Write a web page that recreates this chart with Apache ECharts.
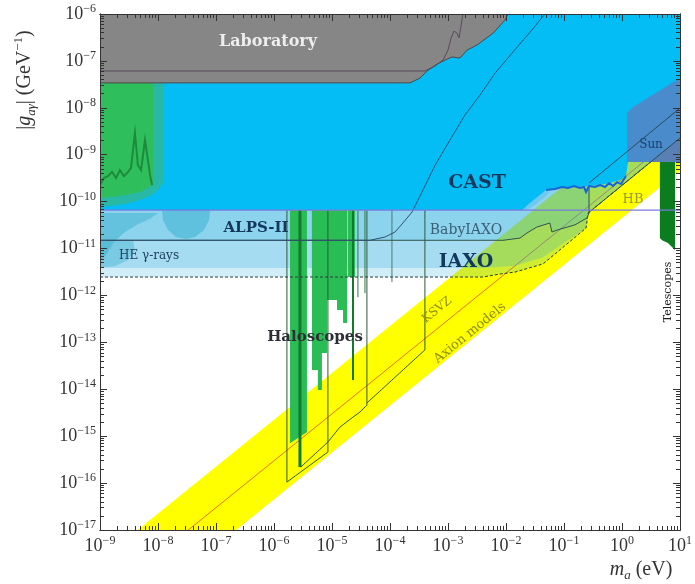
<!DOCTYPE html>
<html><head><meta charset="utf-8">
<script src="https://cdn.jsdelivr.net/npm/echarts@6/dist/echarts.min.js"></script>
<style>html,body{margin:0;padding:0;background:#fff}#c{width:695px;height:584px}</style>
</head><body><div id="c"></div>
<script>
// ---- axes / ticks ----
const xTickValues = [1e-9,1e-8,1e-7,1e-6,1e-5,1e-4,1e-3,1e-2,1e-1,1e0,1e1];
const yTickValues = [1e-17,1e-16,1e-15,1e-14,1e-13,1e-12,1e-11,1e-10,1e-9,1e-8,1e-7,1e-6];

// ---- bands (m in eV, g in GeV^-1) ----
const axionBandUpper = [[1e-9,2.24e-18],[10,2.24e-8]];
const axionBandLower = [[1e-9,4.5e-20],[10,4.5e-10]];
const ksvzLine = [[1e-9,3.0e-19],[10,3.0e-9]];

// ---- helioscopes ----
const iaxoLine = [[1e-9,2.47e-12],[4.0e-3,2.47e-12],[7.9e-3,2.86e-12],[1.43e-2,3.15e-12],[4.35e-2,4.7e-12],[0.24,2.73e-11],[0.26,5.7e-11],[10,2.27e-9]];
const iaxoMidLine = [[1e-9,3.84e-12],[4.0e-3,3.84e-12],[1.43e-2,4.3e-12],[4.35e-2,6.5e-12],[0.24,2.73e-11],[0.26,5.7e-11],[10,2.27e-9]];
const babyIaxoLine = [[1e-9,1.5e-11],[8.9e-3,1.5e-11],[1.74e-2,1.67e-11],[2.3e-2,2.14e-11],[3.4e-2,2.87e-11],[5.7e-2,3.5e-11],[6.2e-2,2.25e-11],[7.6e-2,2.48e-11],[0.155,3.2e-11],[0.25,4.5e-11],[0.27,5.7e-11],[0.27,2.5e-10],[10,9.9e-9]];
const castRegion = [[1e-9,1e-6],[1e-9,6.6e-11],[1.9e-2,6.6e-11],[2.6e-2,9.3e-11],[3.85e-2,1.38e-10],[4.9e-2,1.77e-10],[8.5e-2,1.95e-10],[0.155,2.05e-10],[0.28,2.15e-10],[0.42,2.26e-10],[0.62,2.5e-10],[0.92,2.9e-10],[1.17,3.5e-10],[1.27,7.0e-10],[10,7.0e-10],[10,1e-6]];
const castLight = [[1.9e-2,6.6e-11],[4.9e-2,1.77e-10],[5.7e-2,1.6e-10],[4.9e-2,1.32e-10],[3.16e-2,8.5e-11],[2.3e-2,6.6e-11]];
const castEdge = [[4.9e-2,1.77e-10],[7.0e-2,1.86e-10],[9.2e-2,2.05e-10],[0.117,1.95e-10],[0.149,2.15e-10],[0.189,1.95e-10],[0.221,2.05e-10],[0.24,1.6e-10],[0.27,2.15e-10],[0.342,2.05e-10],[0.42,2.26e-10],[0.51,2.05e-10],[0.60,2.5e-10],[0.70,2.15e-10],[0.82,2.6e-10],[0.96,2.37e-10],[1.08,3.0e-10],[1.17,3.5e-10]];
const alpsLine = [[1e-9,1.5e-11],[4.5e-5,1.5e-11],[8.2e-5,1.76e-11],[1.22e-4,2.25e-11],[1.67e-4,3.5e-11],[2.4e-4,6.0e-11],[3.04e-4,1.08e-10],[3.7e-4,1.77e-10],[6.0e-4,6.0e-10],[1.08e-3,2.06e-9],[1.96e-3,7.0e-9],[3.56e-3,1.87e-8],[6.5e-3,5.5e-8],[1.32e-2,1.55e-7],[2.6e-2,4.1e-7],[4.7e-2,1e-6]];
const hbLine = [[1e-9,6.6e-11],[10,6.6e-11]];

// ---- laboratory ----
const labRegion = [[1e-9,1e-6],[1e-9,3.4e-8],[2.2e-4,3.4e-8],[3.3e-4,4.3e-8],[4.35e-4,6.1e-8],[6.5e-4,8.6e-8],[8.9e-4,1.04e-7],[1.17e-3,1.21e-7],[1.61e-3,1.15e-7],[2.13e-3,1.7e-7],[3.16e-3,2.18e-7],[6.0e-3,3.9e-7],[9.6e-3,7.4e-7],[1.08e-2,1e-6]];
const labInner = [[1e-9,6.1e-8],[4.0e-4,6.1e-8],[6.0e-4,7.8e-8],[8.2e-4,1.04e-7],[1.0e-3,1.7e-7],[1.13e-3,3.1e-7],[1.27e-3,4.3e-7],[1.43e-3,3.9e-7],[1.55e-3,3.1e-7],[1.67e-3,5.3e-7],[1.8e-3,1e-6]];

// ---- astrophysics ----
const tealTopLeft = [[1e-9,3.4e-8],[1.22e-8,3.4e-8],[1.22e-8,2.5e-10],[1e-8,1.77e-10],[7.3e-9,1.32e-10],[4.9e-9,1.08e-10],[2.7e-9,8.9e-11],[1.49e-9,8.1e-11],[1e-9,7.7e-11]];
const greenTopLeft = [[1e-9,3.4e-8],[8.2e-9,3.4e-8],[8.2e-9,2.26e-10],[4.9e-9,1.6e-10],[2.2e-9,1.32e-10],[1e-9,1.19e-10]];
const greenSpikes = [[1e-9,2.26e-10],[1.17e-9,3.2e-10],[1.37e-9,3.5e-10],[1.61e-9,4.3e-10],[1.89e-9,3.2e-10],[2.2e-9,4.7e-10],[2.6e-9,3.5e-10],[3.04e-9,4.3e-10],[3.42e-9,5.2e-10],[4.0e-9,2.9e-9],[4.5e-9,6.0e-10],[5.1e-9,4.7e-10],[5.97e-9,2.06e-9],[6.7e-9,7.7e-10],[7.3e-9,3.7e-10],[7.9e-9,2.26e-10]];
const heGammaA = [[1.17e-8,6.6e-11],[7.9e-8,6.6e-11],[7.6e-8,4.05e-11],[6.2e-8,2.48e-11],[4.35e-8,1.76e-11],[3.04e-8,1.6e-11],[2.04e-8,1.76e-11],[1.49e-8,2.48e-11],[1.22e-8,4.05e-11]];
const heGammaB = [[1e-9,5.7e-11],[1e-8,5.7e-11],[7.3e-9,4.3e-11],[4.5e-9,3.3e-11],[2.7e-9,2.25e-11],[1.74e-9,1.38e-11],[1.27e-9,7.3e-12],[1e-9,5.2e-12]];
const heGammaC = [[1e-9,1.5e-11],[3.7e-9,1.5e-11],[4.0e-9,9.3e-12],[3.04e-9,5.7e-12],[1.82e-9,4.2e-12],[1e-9,4.0e-12]];
const sunRegion = [[1.22,7.0e-10],[1.22,7.7e-9],[1.55,1.04e-8],[10,4.3e-8],[10,7.0e-10]];
const sunLower = [[3.04,7.0e-10],[10,2.27e-9],[10,7.0e-10]];
const telescopes = [[4.5,7.0e-10],[8.2,7.0e-10],[8.2,9.3e-12],[6.2,1.31e-11],[4.9,1.5e-11],[4.5,1.67e-11]];

// ---- haloscopes ----
const halo1 = [[1.89e-6,6.6e-11],[3.7e-6,6.6e-11],[3.7e-6,1.22e-15],[2.6e-6,9.1e-16],[1.89e-6,7.1e-16]];
const halo2 = [[4.5e-6,6.6e-11],[8.2e-6,6.6e-11],[8.2e-6,5.9e-14],[6.7e-6,5.9e-14],[6.7e-6,9.6e-15],[5.7e-6,9.6e-15],[5.7e-6,2.57e-14],[4.5e-6,2.57e-14]];
const halo3 = [[8.2e-6,6.6e-11],[1.82e-5,6.6e-11],[1.82e-5,2.58e-13],[1.55e-5,2.58e-13],[1.55e-5,4.9e-13],[1.22e-5,4.9e-13],[1.22e-5,8.0e-13],[8.2e-6,8.0e-13]];
const halo4 = [[1.89e-5,6.6e-11],[2.5e-5,6.6e-11],[2.5e-5,2.47e-12],[1.89e-5,2.47e-12]];
const haloDark1 = [[2.8e-6,6.6e-11],[2.8e-6,2.2e-16]];
const haloDark2 = [[2.3e-5,6.6e-11],[2.3e-5,1.57e-14]];
const haloThin1 = [[2.8e-5,6.6e-11],[2.8e-5,9.2e-13]];
const haloThin2 = [[3.7e-5,6.6e-11],[3.7e-5,1.12e-12]];
const haloThin3 = [[1.08e-4,6.6e-11],[1.08e-4,1.93e-12]];
const haloOutline1 = [[1.67e-6,6.6e-11],[1.67e-6,1.05e-16],[8.5e-6,4.6e-16],[8.5e-6,6.6e-11]];
const haloOutline2 = [[2.9e-6,2.2e-16],[8.5e-6,7.5e-16],[1.37e-5,1.56e-15],[2.3e-5,2.55e-15],[3.04e-5,3.27e-15],[4.0e-5,4.6e-15],[4.0e-5,6.6e-11]];
const haloOutline3 = [[4.0e-5,5.1e-15],[4.0e-4,6.9e-14],[4.0e-4,6.6e-11]];

// ---- build ----
const minorX = [], minorY = [];
for (let n = -9; n < 1; n++) for (let k = 2; k < 10; k++) minorX.push(k * Math.pow(10, n));
for (let n = -17; n < -6; n++) for (let k = 2; k < 10; k++) minorY.push(k * Math.pow(10, n));

const topEdge = [[10,1e-6],[1e-9,1e-6]];
const bandPoly = axionBandUpper.concat(axionBandLower.slice().reverse());
const iaxoRegion = iaxoLine.concat(topEdge);
const iaxoMidRegion = iaxoMidLine.concat(topEdge);
const babyRegion = babyIaxoLine.concat(topEdge);

let zc = 1;
function poly(points, fill, stroke, lw) {
  return {type:'custom', coordinateSystem:'cartesian2d', clip:true, silent:true, z: 2 + (zc++) * 0.01,
    data:[[1e-3,1e-10]],
    renderItem:(params, api)=>({type:'polygon', shape:{points: points.map(p=>api.coord(p))},
      style:{fill: fill, stroke: stroke || null, lineWidth: lw || 0}})};
}
function line(points, stroke, lw, dash) {
  return {type:'custom', coordinateSystem:'cartesian2d', clip:true, silent:true, z: 2 + (zc++) * 0.01,
    data:[[1e-3,1e-10]],
    renderItem:(params, api)=>({type:'polyline', shape:{points: points.map(p=>api.coord(p))},
      style:{fill: null, stroke: stroke, lineWidth: lw || 1, lineDash: dash || null}})};
}

const serif = '"Liberation Serif", "DejaVu Serif", serif';
const expFmt = v => { const e = Math.round(Math.log10(v)); return '{b|10}{e|' + (e < 0 ? '\u2212' + (-e) : e) + '}'; };
const tickRich = {b:{fontSize:18, fontFamily:serif, color:'#333', lineHeight:22}, e:{fontSize:12, fontFamily:serif, color:'#333', lineHeight:12, verticalAlign:'top'}};

function xAx(pos, values, len, labels) {
  return {type:'log', logBase:10, min:1e-9, max:10, position:pos, z:50,
    axisLine:{show:true, lineStyle:{color:'#333', width:1}},
    axisTick:{show:true, inside:true, length:len, customValues:values, lineStyle:{color:'#333', width:1}},
    axisLabel:{show:labels, customValues:values, formatter:expFmt, rich:tickRich, margin:5},
    splitLine:{show:false}, minorTick:{show:false}};
}
function yAx(pos, values, len, labels) {
  return {type:'log', logBase:10, min:1e-17, max:1e-6, position:pos, z:50,
    axisLine:{show:true, lineStyle:{color:'#333', width:1}},
    axisTick:{show:true, inside:true, length:len, customValues:values, lineStyle:{color:'#333', width:1}},
    axisLabel:{show:labels, customValues:values, formatter:expFmt, rich:tickRich, margin:4},
    splitLine:{show:false}, minorTick:{show:false}};
}

const series = [
  poly(bandPoly, '#ffff00'),
  line(ksvzLine, '#e8702a', 1),
  poly(iaxoRegion, 'rgba(41,173,224,0.22)'),
  poly(iaxoMidRegion, 'rgba(41,173,224,0.25)'),
  poly(babyRegion, 'rgba(41,173,224,0.2)'),
  poly(heGammaB, 'rgba(40,170,200,0.4)'),
  poly(heGammaC, 'rgba(40,170,200,0.35)'),
  poly(heGammaA, 'rgba(40,170,200,0.45)'),
  poly(halo1, '#2bbd55'), poly(halo2, '#2bbd55'), poly(halo3, '#2bbd55'), poly(halo4, '#2bbd55'),
  line(haloDark1, '#137a2d', 3), line(haloDark2, '#137a2d', 2),
  line(haloThin1, '#2e7a45', 1), line(haloThin2, '#2e7a45', 1), line(haloThin3, '#4a7a70', 1),
  line(haloOutline1, '#2f5a3a', 1), line(haloOutline2, '#2f5a3a', 1), line(haloOutline3, '#2f5a3a', 1),
  line(iaxoLine, '#2a3a3a', 1, [3,2]),
  line(babyIaxoLine, '#34524a', 1),
  poly(castLight, '#6ec8f0'),
  poly(castRegion, '#05bdf5'),
  line(castEdge, '#1565d8', 2),
  poly(tealTopLeft, '#27b8a6'),
  poly(greenTopLeft, '#2ebf5c'),
  line(greenSpikes, '#1f8a3c', 2),
  poly(labRegion, '#868686', '#4a4a4a', 1),
  line(labInner, '#5a4a5a', 1),
  poly(sunRegion, '#4a8ccb'),
  poly(sunLower, '#5a7fb5'),
  line(iaxoLine.slice(6), '#2a4a5a', 1),
  line(babyIaxoLine.slice(11), '#2a4a5a', 1),
  poly(telescopes, '#0b7d1f'),
  line(alpsLine, '#2f5070', 1),
  line(hbLine, '#7b7be0', 1.2)
];

const lbl = (text, x, y, font, fill, rot) => ({type:'text', x:x, y:y, z:100, rotation: rot || 0,
  style:{text:text, font:font, fill:fill, align:'center', verticalAlign:'middle'}});
const dj = '"DejaVu Serif", serif';
const diag = Math.atan(0.81);

const graphic = [
  lbl('Laboratory', 268, 42, 'bold 16px ' + dj, '#eeeeee'),
  lbl('CAST', 477, 183, 'bold 19px ' + dj, '#14385c'),
  lbl('ALPS-II', 256, 228, 'bold 15px ' + dj, '#14385c'),
  lbl('BabyIAXO', 466, 230, '14px ' + dj, '#3b5f73'),
  lbl('IAXO', 466, 262, 'bold 19px ' + dj, '#14385c'),
  lbl('HE \u03b3-rays', 149, 256, '12px ' + dj, '#1d4060'),
  lbl('Haloscopes', 315, 337, 'bold 15px ' + dj, '#2e2e38'),
  lbl('KSVZ', 437, 310, '12px ' + dj, '#8c8c10', diag),
  lbl('Axion models', 470, 333, '13px ' + dj, '#8c8c10', diag),
  lbl('HB', 633, 200, '13px ' + dj, '#9a9a3a'),
  lbl('Sun', 651, 145, '12px ' + dj, '#1d3e6a'),
  lbl('Telescopes', 668, 292, '11px ' + dj, '#222', Math.PI/2),
  {type:'text', x:25, y:80, z:100, rotation:Math.PI/2,
   style:{text:'{n||}{i|g}{s|a\u03b3}{n|| (GeV}{p|\u22121}{n|)}', align:'center', verticalAlign:'middle', fill:'#333',
     rich:{n:{fontSize:20, fontFamily:serif, lineHeight:26, fill:'#333'},
           i:{fontSize:20, fontFamily:serif, fontStyle:'italic', lineHeight:26, fill:'#333'},
           s:{fontSize:13, fontFamily:serif, fontStyle:'italic', lineHeight:14, verticalAlign:'bottom', fill:'#333'},
           p:{fontSize:13, fontFamily:serif, lineHeight:14, verticalAlign:'top', fill:'#333'}}}},
  {type:'text', x:641, y:570, z:100,
   style:{text:'{i|m}{s|a}{n| (eV)}', align:'center', verticalAlign:'middle', fill:'#333',
     rich:{n:{fontSize:20, fontFamily:serif, lineHeight:24, fill:'#333'},
           i:{fontSize:20, fontFamily:serif, fontStyle:'italic', lineHeight:24, fill:'#333'},
           s:{fontSize:13, fontFamily:serif, fontStyle:'italic', lineHeight:12, verticalAlign:'bottom', fill:'#333'}}}}
];

const chart = echarts.init(document.getElementById('c'), null, {renderer:'canvas'});
chart.setOption({
  animation:false, backgroundColor:'#ffffff',
  grid:{left:100, right:15, top:14, bottom:54, containLabel:false},
  xAxis:[xAx('bottom', xTickValues, 7, true), xAx('bottom', minorX, 4, false), xAx('top', xTickValues, 7, false), xAx('top', minorX, 4, false)],
  yAxis:[yAx('left', yTickValues, 7, true), yAx('left', minorY, 4, false), yAx('right', yTickValues, 7, false), yAx('right', minorY, 4, false)],
  series: series,
  graphic: graphic
});
</script></body></html>
